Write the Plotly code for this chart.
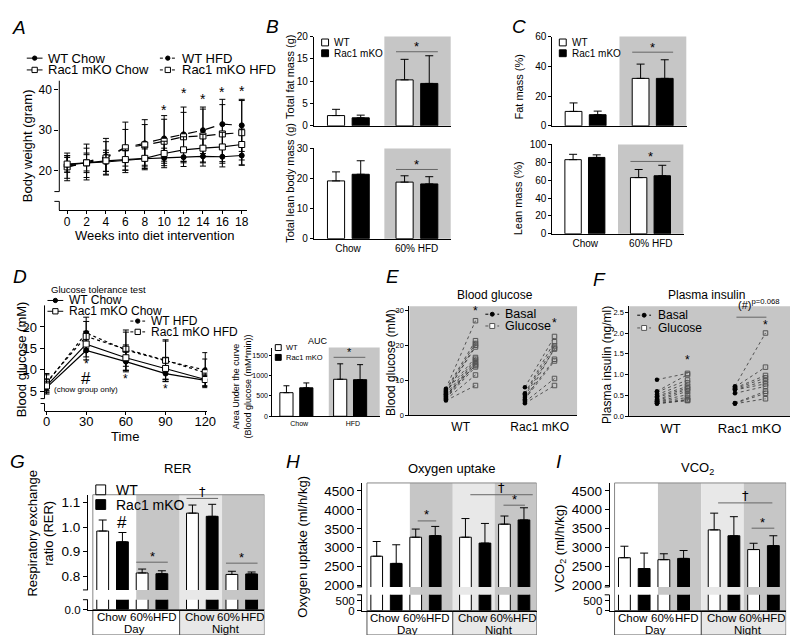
import plotly.graph_objects as go

W, H = 798, 635
FONT = "Liberation Sans, Arial, sans-serif"
GRAY = "#c6c6c6"
LIGHT = "#e8e8e8"
SIGC = "#666666"

# ---------------- A: body weight (gram) ----------------
weeks = [0, 2, 4, 6, 8, 10, 12, 14, 16, 18]
bw_wt_chow = [21.5, 22.0, 22.2, 22.6, 23.0, 23.2, 23.4, 23.6, 23.5, 23.8]
bw_wt_chow_sd = [1.8, 2.0, 2.3, 2.4, 2.4, 2.4, 2.3, 2.4, 2.5, 2.4]
bw_ko_chow = [21.7, 22.0, 22.5, 22.8, 23.1, 24.3, 25.2, 25.6, 25.9, 26.5]
bw_ko_chow_sd = [2.0, 2.4, 2.6, 2.6, 2.8, 3.0, 3.2, 3.4, 3.6, 3.8]
bw_wt_hfd = [21.0, 22.2, 23.5, 25.8, 26.8, 28.0, 29.0, 30.0, 31.5, 31.2]
bw_wt_hfd_sd = [2.8, 4.4, 4.5, 6.2, 5.8, 5.6, 6.7, 5.7, 6.1, 6.4]
bw_ko_hfd = [21.0, 22.0, 23.2, 25.7, 26.4, 27.3, 28.4, 28.6, 29.1, 29.4]
bw_ko_hfd_sd = [3.4, 3.6, 4.0, 4.5, 5.0, 5.4, 6.0, 6.6, 7.2, 7.9]
bw_star_weeks = [10, 12, 14, 16, 18]
bw_star_y = [35.0, 39.2, 37.7, 39.5, 39.7]

# ---------------- B / C: body composition ----------------
groups = ["Chow", "60% HFD"]
fat_wt, fat_wt_err = [2.3, 10.3], [1.4, 4.6]
fat_ko, fat_ko_err = [1.8, 9.5], [0.6, 6.2]
lean_wt, lean_wt_err = [19.2, 18.8], [3.0, 2.1]
lean_ko, lean_ko_err = [21.4, 18.2], [4.5, 2.4]
fatp_wt, fatp_wt_err = [9.7, 31.9], [5.7, 9.6]
fatp_ko, fatp_ko_err = [7.5, 31.9], [2.4, 12.5]
leanp_wt, leanp_wt_err = [83.0, 62.9], [6.0, 9.1]
leanp_ko, leanp_ko_err = [85.5, 65.0], [2.9, 11.7]

# ---------------- D: glucose tolerance test ----------------
gtt_time = [0, 30, 60, 90, 120]
gtt_wt_chow = [5.8, 14.5, 11.9, 9.1, 7.5]
gtt_wt_chow_sd = [1.5, 2.2, 2.4, 1.8, 1.3]
gtt_ko_chow = [6.2, 16.0, 12.8, 10.3, 7.7]
gtt_ko_chow_sd = [1.6, 3.0, 3.0, 2.5, 1.5]
gtt_wt_hfd = [6.8, 18.6, 14.6, 12.1, 9.9]
gtt_wt_hfd_sd = [2.0, 3.7, 4.7, 4.9, 4.1]
gtt_ko_hfd = [7.1, 17.8, 14.8, 12.2, 9.3]
gtt_ko_hfd_sd = [2.0, 3.5, 4.0, 4.5, 3.2]
gtt_star_time = [30, 60, 90]
gtt_star_y = [11.3, 7.8, 5.5]

auc_groups = ["Chow", "HFD"]
auc_wt, auc_wt_err = [580, 910], [170, 380]
auc_ko, auc_ko_err = [700, 900], [120, 370]

# ---------------- E: blood glucose (mM) ----------------
bg_wt_basal = [7.6, 7.3, 7.0, 6.8, 6.5, 6.2, 6.0, 5.8, 5.5, 5.3, 5.0, 4.8, 4.5, 4.2]
bg_wt_glucose = [27.0, 21.3, 20.5, 16.5, 19.5, 20.0, 16.0, 14.2, 15.5, 15.0, 14.5, 13.8, 11.5, 8.5]
bg_ko_basal = [8.0, 6.3, 6.0, 5.5, 5.0, 4.6, 4.2, 3.8, 3.4]
bg_ko_glucose = [22.5, 21.0, 19.8, 18.9, 16.0, 15.5, 19.2, 10.5, 8.5]

# ---------------- F: plasma insulin (ng/ml) ----------------
ins_wt_basal = [0.88, 0.60, 0.58, 0.52, 0.48, 0.45, 0.40, 0.38, 0.36, 0.35, 0.33, 0.31, 0.30]
ins_wt_glucose = [1.03, 1.00, 0.87, 0.80, 0.72, 0.68, 0.65, 0.60, 0.52, 0.45, 0.40, 0.38, 0.38]
ins_ko_basal = [0.72, 0.70, 0.68, 0.66, 0.64, 0.63, 0.55, 0.32, 0.31, 0.30]
ins_ko_glucose = [2.00, 1.18, 0.98, 0.92, 0.85, 0.78, 0.72, 0.60, 0.55, 0.42]

# ---------------- G / H / I: indirect calorimetry ----------------
# order: Day Chow, Day 60% HFD, Night Chow, Night 60% HFD
rer_wt, rer_wt_err = [0.984, 0.813, 1.057, 0.807], [0.045, 0.016, 0.033, 0.013]
rer_ko, rer_ko_err = [0.940, 0.810, 1.044, 0.809], [0.038, 0.012, 0.049, 0.008]
vo2_wt, vo2_wt_err = [2776, 3277, 3277, 3621], [388, 215, 492, 215]
vo2_ko, vo2_ko_err = [2587, 3319, 3122, 3733], [491, 243, 518, 320]
vco2_wt, vco2_wt_err = [2724, 2672, 3463, 2941], [305, 157, 444, 167]
vco2_ko, vco2_ko_err = [2436, 2706, 3307, 3045], [411, 209, 506, 262]

WT_POS = [0, 2, 4.55, 6.55]
KO_POS = [1, 3, 5.55, 7.55]

layout = dict(width=W, height=H, margin=dict(l=0, r=0, t=0, b=0),
              paper_bgcolor="white", plot_bgcolor="rgba(0,0,0,0)",
              showlegend=False, barmode="overlay",
              font=dict(family=FONT, color="black"))
shapes, anns, traces = [], [], []


def fx(x):
    return x / W


def fy(y):
    return 1 - y / H


def axis(**kw):
    d = dict(showgrid=False, zeroline=False, showline=True, linecolor="black",
             linewidth=1, ticks="outside", ticklen=3, tickwidth=1, tickcolor="black",
             tickfont=dict(size=10, family=FONT, color="black"))
    d.update(kw)
    return d


def subplot(n, left, right, bottom, top, xr, yr, xkw=None, ykw=None):
    xn = "xaxis" if n == 1 else f"xaxis{n}"
    yn = "yaxis" if n == 1 else f"yaxis{n}"
    xr_id = "x" if n == 1 else f"x{n}"
    yr_id = "y" if n == 1 else f"y{n}"
    layout[xn] = axis(domain=[fx(left), fx(right)], range=xr, anchor=yr_id, **(xkw or {}))
    layout[yn] = axis(domain=[fy(bottom), fy(top)], range=yr, anchor=xr_id, **(ykw or {}))
    return xr_id, yr_id


def tf(size, family=FONT):
    return dict(size=size, family=family, color="black")


def pline(x0, y0, x1, y1, color="black", width=1, dash=None):
    shapes.append(dict(type="line", xref="paper", yref="paper", x0=fx(x0), y0=fy(y0),
                       x1=fx(x1), y1=fy(y1), line=dict(color=color, width=width, dash=dash)))


def prect(x0, y0, x1, y1, fill, line="black", width=1):
    shapes.append(dict(type="rect", xref="paper", yref="paper", x0=fx(x0), y0=fy(y0),
                       x1=fx(x1), y1=fy(y1), fillcolor=fill, line=dict(color=line, width=width)))


def txt(x, y, s, size, anchor="center", angle=0):
    anns.append(dict(xref="paper", yref="paper", x=fx(x), y=fy(y), text=s, showarrow=False,
                     xanchor=anchor, yanchor="middle", textangle=angle, font=tf(size)))


def glyph(x0, x1, y, dash, sym, color="black", r=2.2):
    pline(x0, y, x1, y, color, 1, dash)
    cx = (x0 + x1) / 2
    if sym == "circle":
        shapes.append(dict(type="circle", xref="paper", yref="paper", x0=fx(cx - r), x1=fx(cx + r),
                           y0=fy(y + r), y1=fy(y - r), fillcolor=color, line=dict(color=color, width=1)))
    else:
        prect(cx - r - 0.5, y + r + 0.5, cx + r + 0.5, y - r - 0.5, "white", color)


def swatch(x, y, fill, s=7, label="", size=10, gap=4):
    prect(x, y + s / 2, x + s, y - s / 2, fill, "black")
    txt(x + s + gap, y, label, size, anchor="left")


def sig(xa, ya, x0, x1, y, sym, shift=7, size=13):
    shapes.append(dict(type="line", xref=xa, yref=ya, x0=x0, x1=x1, y0=y, y1=y,
                       line=dict(color=SIGC, width=1)))
    fam = "DejaVu Sans" if sym == "†" else FONT
    anns.append(dict(xref=xa, yref=ya, x=(x0 + x1) / 2, y=y, yshift=shift, text=sym, showarrow=False,
                     font=tf(size, fam), xanchor="center", yanchor="middle"))


def star(xa, ya, x, y, s="*", size=13):
    anns.append(dict(xref=xa, yref=ya, x=x, y=y, text=s, showarrow=False, font=tf(size),
                     xanchor="center", yanchor="middle"))


def bar(xa, ya, x, y, err, fill, offset=None, width=None, capw=4):
    eb = None
    if err is not None:
        eb = dict(type="data", array=err, arrayminus=[0] * len(err), symmetric=False,
                  color="black", thickness=1, width=capw)
    traces.append(go.Bar(x=x, y=y, xaxis=xa, yaxis=ya, offset=offset, width=width,
                         marker=dict(color=fill, line=dict(color="black", width=1)),
                         error_y=eb, hoverinfo="skip"))


def line_series(xa, ya, x, y, sd, dash, sym, size=5):
    traces.append(go.Scatter(
        x=x, y=y, xaxis=xa, yaxis=ya, mode="lines+markers",
        line=dict(color="black", width=1.2, dash=dash),
        marker=dict(symbol=sym, size=size, color="black" if sym == "circle" else "white",
                    line=dict(color="black", width=1)),
        error_y=dict(type="data", array=sd, color="black", thickness=1, width=3),
        hoverinfo="skip"))


# ================= A =================
xa, ya = subplot(1, 50, 240, 200, 68, [-0.81, 18.51], [10.36, 42.17],
                 xkw=dict(tickvals=weeks, ticklen=3, tickfont=tf(12), ticklabelstandoff=-3),
                 ykw=dict(showline=False, tickvals=[20, 30, 40], ticklen=4, tickfont=tf(12)))
line_series(xa, ya, weeks, bw_wt_hfd, bw_wt_hfd_sd, "dash", "circle")
line_series(xa, ya, weeks, bw_ko_hfd, bw_ko_hfd_sd, "dash", "square", 6)
line_series(xa, ya, weeks, bw_wt_chow, bw_wt_chow_sd, "solid", "circle")
line_series(xa, ya, weeks, bw_ko_chow, bw_ko_chow_sd, "solid", "square", 6)
for w, s in zip(bw_star_weeks, bw_star_y):
    star(xa, ya, w, s, size=14)
pline(50, 68, 50, 181)
pline(45, 181, 50, 181)
pline(50, 191, 50, 200)
pline(45, 191, 50, 191)
txt(9, 14, "<i>A</i>", 19)
glyph(17, 33, 45, None, "circle")
txt(37, 45, "WT Chow", 13, anchor="left")
glyph(17, 33, 57, None, "square")
txt(37, 57, "Rac1 mKO Chow", 13, anchor="left")
glyph(152, 168, 45, "dot", "circle")
txt(172, 45, "WT HFD", 13, anchor="left")
glyph(152, 168, 57, "dot", "square")
txt(172, 57, "Rac1 mKO HFD", 13, anchor="left")
txt(18, 134, "Body weight (gram)", 13, angle=-90)
txt(147, 226, "Weeks into diet intervention", 13)

# ================= B =================
xa, ya = subplot(2, 308, 447, 114, 23, [-0.5, 1.5], [0, 20],
                 xkw=dict(type="category", ticks="", showticklabels=False),
                 ykw=dict(tickvals=[0, 5, 10, 15, 20]))
shapes.append(dict(type="rect", xref=xa, yref=ya + " domain", x0=0.53, x1=1.5, y0=0, y1=1,
                   fillcolor=GRAY, line=dict(width=0), layer="below"))
bar(xa, ya, groups, fat_wt, fat_wt_err, "white", -0.3, 0.25)
bar(xa, ya, groups, fat_ko, fat_ko_err, "black", 0.06, 0.25)
sig(xa, ya, 0.7, 1.31, 16.6, "*", 5)
swatch(316, 29, "white", label="WT")
swatch(316, 40, "black", label="Rac1 mKO")

xa, ya = subplot(3, 308, 447, 229, 137, [-0.5, 1.5], [0, 30],
                 xkw=dict(type="category", ticks=""),
                 ykw=dict(tickvals=[0, 10, 20, 30]))
shapes.append(dict(type="rect", xref=xa, yref=ya + " domain", x0=0.53, x1=1.5, y0=0, y1=1,
                   fillcolor=GRAY, line=dict(width=0), layer="below"))
bar(xa, ya, groups, lean_wt, lean_wt_err, "white", -0.3, 0.25)
bar(xa, ya, groups, lean_ko, lean_ko_err, "black", 0.06, 0.25)
sig(xa, ya, 0.7, 1.31, 23.0, "*", 5)
txt(266, 13, "<i>B</i>", 19)
txt(284, 64, "Total fat mass (g)", 11, angle=-90)
txt(284, 172, "Total lean body mass (g)", 11, angle=-90)

# ================= C =================
xa, ya = subplot(4, 550, 686, 114, 23, [-0.5, 1.5], [0, 60],
                 xkw=dict(type="category", ticks="", showticklabels=False),
                 ykw=dict(tickvals=[0, 20, 40, 60]))
shapes.append(dict(type="rect", xref=xa, yref=ya + " domain", x0=0.5, x1=1.5, y0=0, y1=1,
                   fillcolor=GRAY, line=dict(width=0), layer="below"))
bar(xa, ya, groups, fatp_wt, fatp_wt_err, "white", -0.31, 0.25)
bar(xa, ya, groups, fatp_ko, fatp_ko_err, "black", 0.05, 0.25)
sig(xa, ya, 0.69, 1.3, 49.5, "*", 5)
swatch(557, 29, "white", label="WT")
swatch(557, 40, "black", label="Rac1 mKO")

xa, ya = subplot(5, 550, 683, 224, 133, [-0.5, 1.5], [0, 100],
                 xkw=dict(type="category", ticks=""),
                 ykw=dict(tickvals=[0, 20, 40, 60, 80, 100]))
shapes.append(dict(type="rect", xref=xa, yref=ya + " domain", x0=0.5, x1=1.5, y0=0, y1=1,
                   fillcolor=GRAY, line=dict(width=0), layer="below"))
bar(xa, ya, groups, leanp_wt, leanp_wt_err, "white", -0.31, 0.25)
bar(xa, ya, groups, leanp_ko, leanp_ko_err, "black", 0.05, 0.25)
sig(xa, ya, 0.69, 1.3, 81.0, "*", 5)
txt(516, 13, "<i>C</i>", 19)
txt(516, 74, "Fat mass (%)", 11, angle=-90)
txt(516, 188, "Lean mass (%)", 11, angle=-90)

# ================= D =================
xa, ya = subplot(6, 35, 200, 405, 297, [-1.49, 121.5], [0.25, 25.06],
                 xkw=dict(tickvals=gtt_time, ticklen=3, tickfont=tf(13), ticklabelstandoff=-5),
                 ykw=dict(showline=False, tickvals=[5, 10, 15, 20], ticklen=4, tickfont=tf(13)))
line_series(xa, ya, gtt_time, gtt_wt_hfd, gtt_wt_hfd_sd, "dot", "circle")
line_series(xa, ya, gtt_time, gtt_ko_hfd, gtt_ko_hfd_sd, "dot", "square", 6)
line_series(xa, ya, gtt_time, gtt_wt_chow, gtt_wt_chow_sd, "solid", "circle")
line_series(xa, ya, gtt_time, gtt_ko_chow, gtt_ko_chow_sd, "solid", "square", 6)
for t, s in zip(gtt_star_time, gtt_star_y):
    star(xa, ya, t, s, size=12)
star(xa, ya, 30, 8.0, "#", 17)
star(xa, ya, 30, 5.3, "(chow group only)", 8)
pline(35, 297, 35, 392)
pline(31, 392, 35, 392)
pline(35, 397, 35, 405)
pline(31, 397, 35, 397)
txt(10, 268, "<i>D</i>", 19)
txt(90, 281, "Glucose tolerance test", 9.5)
glyph(38, 54, 292, None, "circle")
txt(58, 292, "WT Chow", 12, anchor="left")
glyph(38, 54, 303, None, "square")
txt(58, 303, "Rac1 mKO Chow", 12, anchor="left")
glyph(122, 137, 313, "dot", "circle")
txt(141, 313, "WT HFD", 12, anchor="left")
glyph(122, 137, 324, "dot", "square")
txt(141, 324, "Rac1 mKO HFD", 12, anchor="left")
txt(12, 352, "Blood glucose (mM)", 13, angle=-90)
txt(117, 431, "Time", 13)

# AUC inset
xa, ya = subplot(7, 266, 375, 410, 340, [-0.5, 1.5], [0, 1690],
                 xkw=dict(type="category", ticks="", tickfont=tf(7)),
                 ykw=dict(tickvals=[0, 500, 1000, 1500], ticklen=2, tickfont=tf(7)))
shapes.append(dict(type="rect", xref=xa, yref=ya + " domain", x0=0.55, x1=1.5, y0=0, y1=1,
                   fillcolor=GRAY, line=dict(width=0), layer="below"))
bar(xa, ya, auc_groups, auc_wt, auc_wt_err, "white", -0.36, 0.245, capw=3)
bar(xa, ya, auc_groups, auc_ko, auc_ko_err, "black", 0.01, 0.245, capw=3)
sig(xa, ya, 0.64, 1.23, 1450, "*", 5, size=11)
swatch(269, 340, "white", s=6, label="WT", size=7.5, gap=3)
swatch(269, 350, "black", s=6, label="Rac1 mKO", size=7.5, gap=3)
txt(312, 333, "AUC", 9)
txt(235, 380, "Area Under the curve<br>(Blood glucose (mM*min))", 9, angle=-90)

# ================= E =================
xa, ya = subplot(8, 405, 575, 409, 298, [-1.233, 4.433], [0, 31.1],
                 xkw=dict(ticks="", tickvals=[0.5, 3.17], ticktext=["WT", "Rac1 mKO"], tickfont=tf(12)),
                 ykw=dict(tickvals=[0, 10, 20, 30], ticklen=3, tickfont=tf(7.5)))
shapes.append(dict(type="rect", xref=xa + " domain", yref=ya + " domain", x0=0, x1=1, y0=0, y1=1,
                   fillcolor=GRAY, line=dict(width=0), layer="below"))


def spaghetti(xa, ya, x0, x1, basal, gluc, msize=4.5):
    xs, ys = [], []
    for b, g in zip(basal, gluc):
        xs += [x0, x1, None]
        ys += [b, g, None]
    traces.append(go.Scatter(x=xs, y=ys, xaxis=xa, yaxis=ya, mode="lines",
                             line=dict(color="#333333", width=0.8, dash="dot"), hoverinfo="skip"))
    traces.append(go.Scatter(x=[x0] * len(basal), y=basal, xaxis=xa, yaxis=ya, mode="markers",
                             marker=dict(symbol="circle", size=msize, color="black"), hoverinfo="skip"))
    traces.append(go.Scatter(x=[x1] * len(gluc), y=gluc, xaxis=xa, yaxis=ya, mode="markers",
                             marker=dict(symbol="square-open", size=msize, color="#555555",
                                         line=dict(width=1)), hoverinfo="skip"))


spaghetti(xa, ya, 0, 1, bg_wt_basal, bg_wt_glucose)
spaghetti(xa, ya, 2.67, 3.67, bg_ko_basal, bg_ko_glucose)
star(xa, ya, 1, 29.7, size=12)
star(xa, ya, 3.67, 26.3, size=12)
txt(388, 268, "<i>E</i>", 19)
txt(492, 286, "Blood glucose", 12)
txt(387, 355, "Blood glucose (mM)", 12, angle=-90)
glyph(482, 496, 306, "dot", "circle", "black", 2)
txt(500, 306, "Basal", 12.5, anchor="left")
glyph(482, 496, 318, "dot", "square", "#555555", 2)
txt(500, 318, "Glucose", 12.5, anchor="left")

# ================= F =================
xa, ya = subplot(9, 628, 792, 410, 298, [-0.903, 4.387], [0, 2.64],
                 xkw=dict(ticks="", tickvals=[0.45, 3.03], ticktext=["WT", "Rac1 mKO"], tickfont=tf(13)),
                 ykw=dict(tickvals=[0, 0.5, 1.0, 1.5, 2.0, 2.5], tickformat=".1f", ticklen=3, tickfont=tf(7.5)))
shapes.append(dict(type="rect", xref=xa + " domain", yref=ya + " domain", x0=0, x1=1, y0=0, y1=1,
                   fillcolor=GRAY, line=dict(width=0), layer="below"))
spaghetti(xa, ya, 0, 1, ins_wt_basal, ins_wt_glucose)
spaghetti(xa, ya, 2.55, 3.55, ins_ko_basal, ins_ko_glucose)
star(xa, ya, 1, 1.35, size=12)
star(xa, ya, 3.55, 2.19, size=12)
shapes.append(dict(type="line", xref=xa, yref=ya, x0=2.6, x1=3.58, y0=2.38, y1=2.38,
                   line=dict(color=SIGC, width=1)))
txt(598, 271, "<i>F</i>", 19)
txt(706, 286, "Plasma insulin", 12)
txt(736, 296, "(#)<sup>p=0.068</sup>", 11, anchor="left")
txt(606, 358, "Plasma insulin (ng/ml)", 12, angle=-90)
glyph(636, 650, 307, "dot", "circle", "black", 2)
txt(655, 307, "Basal", 12, anchor="left")
glyph(636, 650, 320, "dot", "square", "#555555", 2)
txt(655, 320, "Glucose", 12, anchor="left")


# ================= G / H / I =================
def calorimetry(nu, nl, left, right, frame_top, up_bottom, low_top, axis_bottom, up_range,
                low_range, up_ticks, low_ticks, low_text, fmt, wt, wt_err, ko, ko_err):
    xr = [-0.75, 8.2]
    xu, yu = subplot(nu, left, right, up_bottom, frame_top, xr, up_range,
                     xkw=dict(visible=False),
                     ykw=dict(tickvals=up_ticks, tickformat=fmt, ticklen=4, tickfont=tf(13.5)))
    xl, yl = subplot(nl, left, right, axis_bottom, low_top, xr, low_range,
                     xkw=dict(ticks="", showticklabels=False),
                     ykw=dict(tickvals=low_ticks, ticktext=low_text, ticklen=4, tickfont=tf(11.5)))
    # shaded day / night blocks
    for x0, x1, fill in [(1.7, 3.9, GRAY), (3.9, 6.05, LIGHT), (6.05, 8.2, GRAY)]:
        shapes.append(dict(type="rect", xref=xu, yref="paper", x0=x0, x1=x1, y0=fy(axis_bottom),
                           y1=fy(frame_top), fillcolor=fill, line=dict(width=0), layer="below"))
    shapes.append(dict(type="rect", xref=xu, yref="paper", x0=-0.5, x1=8.2, y0=fy(axis_bottom),
                       y1=fy(frame_top), line=dict(color="#888888", width=1), layer="below"))
    for x0, x1, fill in [(-0.5, 3.9, "white"), (3.9, 8.2, LIGHT)]:
        shapes.append(dict(type="rect", xref=xu, yref="paper", x0=x0, x1=x1, y0=fy(633),
                           y1=fy(axis_bottom), fillcolor=fill, line=dict(color="#555555", width=1),
                           layer="below"))
    for x, s in [(0.45, "Chow"), (1.95, "60%"), (3.15, "HFD"), (4.95, "Chow"), (6.4, "60%"), (7.6, "HFD")]:
        anns.append(dict(xref=xu, yref="paper", x=x, y=fy(axis_bottom + 8), text=s, showarrow=False,
                         font=tf(11.5), xanchor="center", yanchor="middle"))
    for x, s in [(1.6, "Day"), (6.25, "Night")]:
        anns.append(dict(xref=xu, yref="paper", x=x, y=fy(axis_bottom + 19.5), text=s, showarrow=False,
                         font=tf(11.5), xanchor="center", yanchor="middle"))
    bar(xu, yu, WT_POS, wt, wt_err, "white", width=0.6, capw=4)
    bar(xu, yu, KO_POS, ko, ko_err, "black", width=0.6, capw=4)
    bar(xl, yl, WT_POS, wt, None, "white", width=0.6)
    bar(xl, yl, KO_POS, ko, None, "black", width=0.6)
    pline(left - 5, up_bottom, left, up_bottom)
    pline(left - 5, low_top, left, low_top)
    return xu, yu


xa, ya = calorimetry(10, 11, 79, 258, 490, 587, 597, 607, [0.744, 1.132], [0, 0.04],
                     [0.8, 0.9, 1.0, 1.1], [0], ["0.0"], ".1f",
                     rer_wt, rer_wt_err, rer_ko, rer_ko_err)
sig(xa, ya, 1.7, 3.3, 0.857, "*", 6)
sig(xa, ya, 4.25, 5.85, 1.117, "†", 7, size=13)
sig(xa, ya, 6.25, 7.85, 0.853, "*", 6)
star(xa, ya, 1, 1.02, "#", 17)
swatch(87, 485, "white", s=10, label="WT", size=14, gap=8)
swatch(87, 500, "black", s=10, label="Rac1 mKO", size=14, gap=8)
txt(8, 456, "<i>G</i>", 19)
txt(170, 463, "RER", 13)
txt(31, 530, "Respiratory exchange<br>ratio (RER)", 13, angle=-90)

xa, ya = calorimetry(12, 13, 357, 534, 478, 584, 592, 608, [1966, 4707], [0, 800],
                     [2000, 2500, 3000, 3500, 4000, 4500], [0, 500], ["0", "500"], None,
                     vo2_wt, vo2_wt_err, vo2_ko, vo2_ko_err)
sig(xa, ya, 2.1, 3.05, 3707, "*", 6)
sig(xa, ya, 4.8, 8.0, 4397, "†", 7, size=13)
sig(xa, ya, 6.5, 7.6, 4121, "*", 6)
txt(287, 456, "<i>H</i>", 19)
txt(448, 463, "Oxygen uptake", 13)
txt(297, 543, "Oxygen uptake (ml/h/kg)", 13, angle=-90)

xa, ya = calorimetry(14, 15, 608, 787, 478, 584, 592, 608, [1948, 4708], [0, 800],
                     [2000, 2500, 3000, 3500, 4000, 4500], [0, 500], ["0", "500"], None,
                     vco2_wt, vco2_wt_err, vco2_ko, vco2_ko_err)
sig(xa, ya, 4.75, 7.5, 4179, "†", 7, size=13)
sig(xa, ya, 6.45, 7.6, 3508, "*", 6)
txt(557, 456, "<i>I</i>", 19)
txt(697, 463, "VCO<sub>2</sub>", 13)
txt(558, 545, "VCO<sub>2</sub> (ml/h/kg)", 13, angle=-90)

layout["shapes"] = shapes
layout["annotations"] = anns
fig = go.Figure(data=traces, layout=layout)
fig.write_html("out.html")
